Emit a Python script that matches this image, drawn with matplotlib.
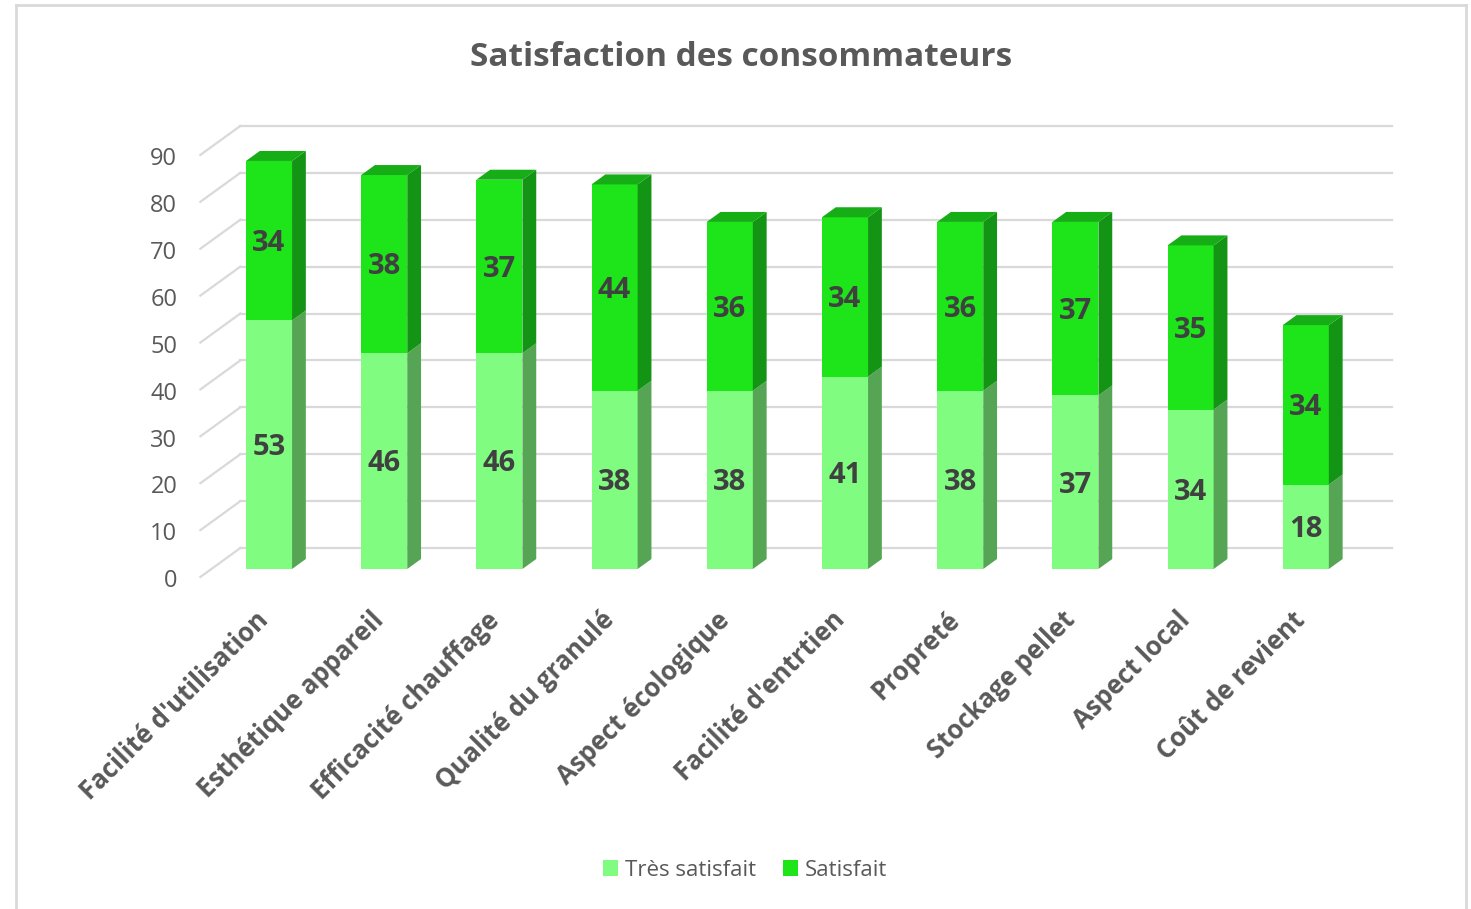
import matplotlib
matplotlib.use("Agg")
import matplotlib.pyplot as plt
from matplotlib.patches import Polygon
from matplotlib.lines import Line2D
from matplotlib.patches import Patch

plt.rcParams['font.family'] = ['Open Sans', 'DejaVu Sans']

categories = ["Facilité d'utilisation", "Esthétique appareil", "Efficacité chauffage",
              "Qualité du granulé", "Aspect écologique", "Facilité d'entrtien",
              "Propreté", "Stockage pellet", "Aspect local", "Coût de revient"]
tres_satisfait = [53, 46, 46, 38, 38, 41, 38, 37, 34, 18]
satisfait = [34, 38, 37, 44, 36, 34, 36, 37, 35, 34]
yticks = [0, 10, 20, 30, 40, 50, 60, 70, 80, 90]

light = "#80fc80"
light_side = "#55a555"
dark = "#1de51a"
dark_side = "#149414"
dark_top = "#17ad17"
grid_c = "#d9d9d9"
text_c = "#595959"
label_c = "#404040"

W, H = 1471, 909
fig = plt.figure(figsize=(W / 100, H / 100), dpi=100)

# axes placed so that 1 category = 115.2 px and 1 value unit = 4.69 px
px_l, px_r, px_t, px_b = 150, 1420, 110, 600
x0_px, y0_px = 269, 569
sx, sy = 115.2, 4.69
ax = fig.add_axes([px_l / W, 1 - px_b / H, (px_r - px_l) / W, (px_b - px_t) / H])
ax.set_xlim((px_l - x0_px) / sx, (px_r - x0_px) / sx)
ax.set_ylim((y0_px - px_b) / sy, (y0_px - px_t) / sy)
ax.axis("off")


def off(d):
    # oblique depth offset (d in px along the vertical) -> data units
    return 1.38 * d / sx, d / sy


n = len(categories)
# back wall gridlines and left side wall lines
bx, by = off(21)
fx, fy = off(-8)
for v in yticks:
    ax.plot([-0.5 + bx, n - 0.5 + bx], [v + by, v + by], color=grid_c, lw=1.6, zorder=1)
    ax.plot([-0.5 + fx, -0.5 + bx], [v + fy, v + by], color=grid_c, lw=1.6, zorder=1)
    ax.text(-0.5 + fx - 0.2, v + fy - 0.9, str(v), ha="right", va="center",
            fontsize=17, color=text_c)

# bars with 3D side and top faces
w = 0.4
dx, dy = off(10)
xs = list(range(n))
ax.bar(xs, tres_satisfait, width=w, color=light, zorder=3)
ax.bar(xs, satisfait, width=w, bottom=tres_satisfait, color=dark, zorder=3)
for i in xs:
    b1, t1 = 0, tres_satisfait[i]
    t2 = t1 + satisfait[i]
    xr = i + w / 2
    for b, t, c in [(b1, t1, light_side), (t1, t2, dark_side)]:
        ax.add_patch(Polygon([(xr, b), (xr + dx, b + dy), (xr + dx, t + dy), (xr, t)],
                             closed=True, facecolor=c, edgecolor="none", zorder=3))
    ax.add_patch(Polygon([(i - w / 2, t2), (xr, t2), (xr + dx, t2 + dy), (i - w / 2 + dx, t2 + dy)],
                         closed=True, facecolor=dark_top, edgecolor="none", zorder=3))
    ax.text(i, t1 / 2 - 0.6, str(tres_satisfait[i]), ha="center", va="center",
            fontsize=21, fontweight="bold", color=label_c, zorder=4)
    ax.text(i, t1 + satisfait[i] / 2 - 0.6, str(satisfait[i]), ha="center", va="center",
            fontsize=21, fontweight="bold", color=label_c, zorder=4)
    ax.text(i - 0.12, -8, categories[i], rotation=45, rotation_mode="anchor",
            ha="right", va="top", fontsize=18.5, fontweight="bold", color=text_c,
            clip_on=False)

fig.text(741 / W, 1 - 57 / H, "Satisfaction des consommateurs", ha="center", va="center",
         fontsize=24, fontweight="bold", color=text_c)

handles = [Patch(facecolor=light, label="Très satisfait"),
           Patch(facecolor=dark, label="Satisfait")]
fig.legend(handles=handles, loc="center", bbox_to_anchor=(745 / W, 1 - 870 / H), ncol=2,
           frameon=False, fontsize=16, labelcolor=text_c, handlelength=0.7,
           handleheight=0.7, handletextpad=0.3, columnspacing=1.2)

# chart border
fig.add_artist(Line2D([16 / W, 16 / W], [0, 1 - 5 / H], color="#d9d9d9", lw=2))
fig.add_artist(Line2D([16 / W, 1466 / W], [1 - 5 / H, 1 - 5 / H], color="#d9d9d9", lw=2))
fig.add_artist(Line2D([1466 / W, 1466 / W], [0, 1 - 5 / H], color="#d9d9d9", lw=2))

fig.savefig("out.png", dpi=100, facecolor="white")
